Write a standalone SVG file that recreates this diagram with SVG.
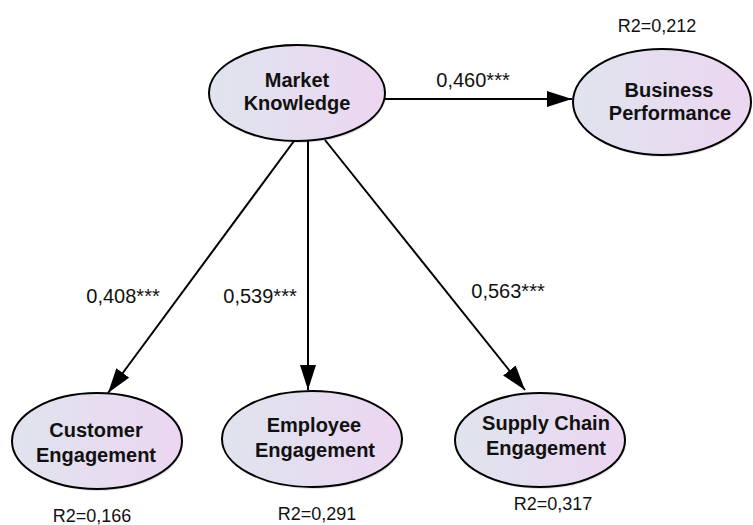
<svg xmlns="http://www.w3.org/2000/svg" width="753" height="525" viewBox="0 0 753 525">
<defs>
<linearGradient id="g" x1="0" y1="0" x2="1" y2="0">
<stop offset="0" stop-color="#dfe4ee"/>
<stop offset="1" stop-color="#ecd6f1"/>
</linearGradient>
<marker id="a" viewBox="0 0 25 16" refX="25" refY="8" markerWidth="25" markerHeight="16" markerUnits="userSpaceOnUse" orient="auto">
<path d="M0,0 L25,8 L0,16 z" fill="#000"/>
</marker>
</defs>
<style>
.n{fill:url(#g);stroke:#000;stroke-width:2}
.s{fill:#000;opacity:0.12}
.t{font-family:"Liberation Sans",Arial,sans-serif;font-weight:bold;font-size:20px;text-anchor:middle;fill:#111}
.l{font-family:"Liberation Sans",Arial,sans-serif;font-size:20px;text-anchor:middle;fill:#111}
.r{font-family:"Liberation Sans",Arial,sans-serif;font-size:18px;text-anchor:middle;fill:#111}
.c{stroke:#000;stroke-width:2;fill:none;marker-end:url(#a)}
</style>
<rect width="753" height="525" fill="#fff"/>
<g id="connectors">
<line class="c" x1="385" y1="99" x2="572" y2="99"/>
<line class="c" x1="294" y1="141" x2="108" y2="393"/>
<line class="c" x1="308" y1="141" x2="308" y2="390"/>
<line class="c" x1="325" y1="140" x2="525" y2="390"/>
<text class="l" x="473" y="87">0,460***</text>
<text class="l" x="123" y="303">0,408***</text>
<text class="l" x="260" y="303">0,539***</text>
<text class="l" x="508" y="298">0,563***</text>
</g>
<g id="market-knowledge">
<ellipse class="s" cx="298" cy="95" rx="88" ry="48"/>
<ellipse class="n" cx="297" cy="93" rx="88" ry="48"/>
<text class="t" x="297" y="87">Market</text>
<text class="t" x="297" y="110">Knowledge</text>
</g>
<g id="business-performance">
<ellipse class="s" cx="663" cy="104" rx="89" ry="53"/>
<ellipse class="n" cx="662" cy="102" rx="89" ry="53"/>
<text class="t" x="669" y="97">Business</text>
<text class="t" x="670" y="120">Performance</text>
<text class="r" x="657" y="32">R2=0,212</text>
</g>
<g id="customer-engagement">
<ellipse class="s" cx="98" cy="443" rx="85" ry="48"/>
<ellipse class="n" cx="97" cy="441" rx="85" ry="48"/>
<text class="t" x="96" y="437">Customer</text>
<text class="t" x="96" y="462">Engagement</text>
<text class="r" x="92" y="522">R2=0,166</text>
</g>
<g id="employee-engagement">
<ellipse class="s" cx="313" cy="441" rx="90" ry="48"/>
<ellipse class="n" cx="312" cy="439" rx="90" ry="48"/>
<text class="t" x="314" y="432">Employee</text>
<text class="t" x="315" y="457">Engagement</text>
<text class="r" x="317" y="520">R2=0,291</text>
</g>
<g id="supply-chain-engagement">
<ellipse class="s" cx="541" cy="442" rx="85" ry="47"/>
<ellipse class="n" cx="540" cy="440" rx="85" ry="47"/>
<text class="t" x="546" y="430">Supply Chain</text>
<text class="t" x="546" y="455">Engagement</text>
<text class="r" x="553" y="510">R2=0,317</text>
</g>
</svg>
